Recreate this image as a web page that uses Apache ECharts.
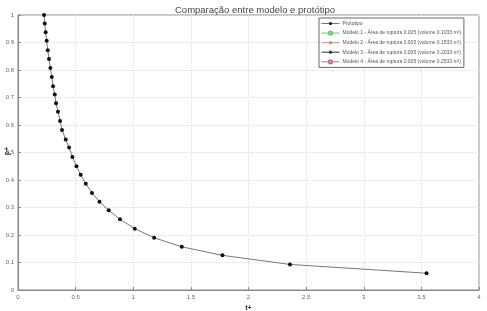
<!DOCTYPE html>
<html><head><meta charset="utf-8">
<script src="https://cdn.jsdelivr.net/npm/echarts@6/dist/echarts.min.js"></script>
<style>html,body{margin:0;padding:0;background:#fff}#c{width:487px;height:311px}</style>
</head><body><div id="c"></div>
<script>
const tPlus = [0.226,0.232,0.240,0.249,0.258,0.269,0.281,0.293,0.304,0.319,0.330,0.347,0.365,0.382,0.414,0.443,0.472,0.507,0.544,0.588,0.642,0.707,0.787,0.885,1.013,1.181,1.421,1.774,2.36,3.545];
const pPlus = [1.0,0.969,0.937,0.906,0.872,0.840,0.807,0.775,0.741,0.711,0.679,0.648,0.615,0.582,0.547,0.518,0.484,0.450,0.419,0.386,0.353,0.321,0.290,0.257,0.223,0.190,0.157,0.126,0.093,0.061];
const seriesNames = ['Protótipo','Modelo 1 - Área de ruptura 0.005 (volume 0.1033 m³)','Modelo 2 - Área de ruptura 0.005 (volume 0.1533 m³)','Modelo 3 - Área de ruptura 0.005 (volume 0.2033 m³)','Modelo 4 - Área de ruptura 0.005 (volume 0.2533 m³)'];
const seriesColors = ['#333344','#66cc66','#cc8888','#333333','#bb7777'];
const seriesSymbols = ['circle','emptyCircle','circle','circle','emptyCircle'];

const chart = echarts.init(document.getElementById('c'), null, {renderer:'canvas'});
const protoData = tPlus.map((t,i)=>[t,pPlus[i]]);
const series = seriesNames.map((n,i)=>({
  name:n, type:'line',
  data: i===0 ? protoData : [],
  symbol: seriesSymbols[i], symbolSize: 4,
  lineStyle:{color: i===0 ? '#777' : seriesColors[i], width:1},
  itemStyle:{color: i===0 ? '#111' : seriesColors[i]},
  color: seriesColors[i],
  z: i===0 ? 5 : 2,
  animation:false
}));
chart.setOption({
  animation:false,
  title:{text:'Comparação entre modelo e protótipo', left:250, top:0, textAlign:'center',
    textStyle:{fontSize:9.5, fontWeight:'normal', color:'#444', fontFamily:'Liberation Sans'}},
  grid:{left:18, right:8, top:15, bottom:21, containLabel:false, outerBoundsMode:'none',
    show:true, borderColor:'#888', borderWidth:1},
  legend:{orient:'vertical', left:319, top:18, width:158, itemWidth:18, itemHeight:4, itemGap:4.5,
    padding:[3,3,3,2], borderColor:'#666', borderWidth:1, backgroundColor:'#fff',
    lineStyle:{width:1}, itemStyle:{borderWidth:1},
    textStyle:{fontSize:5, color:'#555', fontFamily:'Liberation Sans', padding:[0,0,0,-2]},
    data: seriesNames},
  graphic:[{type:'text', left:4, top:147, rotation:Math.PI/2,
    style:{text:'p+', fontSize:7, fontWeight:'bold', fill:'#333', fontFamily:'Liberation Sans'}}],
  xAxis:{type:'value', min:0, max:4, interval:0.5, name:'t+', nameLocation:'middle', nameGap:11,
    nameTextStyle:{fontSize:7, color:'#333', fontWeight:'bold'},
    axisLine:{show:true, lineStyle:{color:'#888'}}, axisTick:{inside:true, length:3, lineStyle:{color:'#888'}},
    axisLabel:{fontSize:6, color:'#666', margin:4},
    splitLine:{show:true, lineStyle:{color:'#ddd', type:'dotted'}}},
  yAxis:{type:'value', min:0, max:1, interval:0.1,
    axisLine:{show:true, lineStyle:{color:'#888'}}, axisTick:{inside:true, length:3, lineStyle:{color:'#888'}},
    axisLabel:{fontSize:6, color:'#666', margin:4},
    splitLine:{show:true, lineStyle:{color:'#ddd', type:'dotted'}}},
  series: series
});
</script></body></html>
